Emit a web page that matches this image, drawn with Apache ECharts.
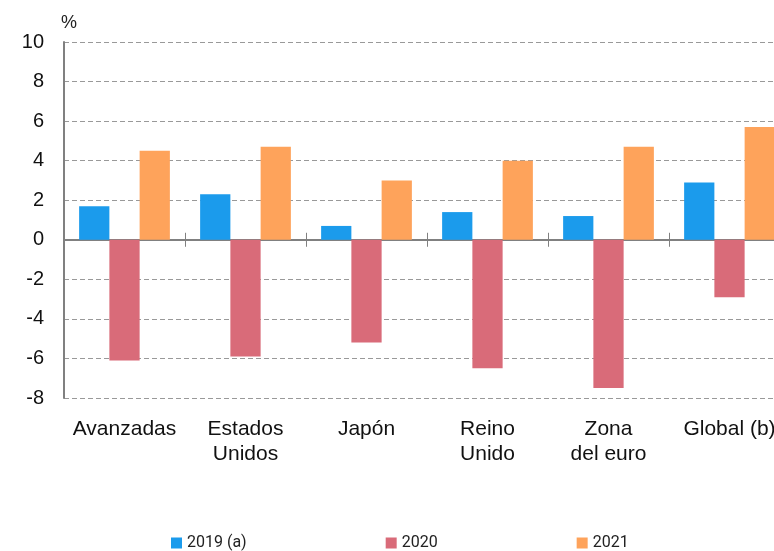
<!DOCTYPE html>
<html>
<head>
<meta charset="utf-8">
<script src="https://cdn.jsdelivr.net/npm/echarts@6/dist/echarts.min.js"></script>
<style>
  html, body { margin: 0; padding: 0; background: #fff; overflow: hidden; }
  /* el gráfico original está recortado a la derecha */
  #chart { width: 790px; height: 551px; }
</style>
</head>
<body>
<div id="chart"></div>
<script>
// categorías y valores (%)
const categories = ['Avanzadas', 'Estados\nUnidos', 'Japón', 'Reino\nUnido', 'Zona\ndel euro', 'Global (b)']
const serie2019 = [1.7, 2.3, 0.7, 1.4, 1.2, 2.9]
const serie2020 = [-6.1, -5.9, -5.2, -6.5, -7.5, -2.9]
const serie2021 = [4.5, 4.7, 3.0, 4.0, 4.7, 5.7]
const seriesNames = ['2019 (a)', '2020', '2021']
const yTicks = {min: -8, max: 10, interval: 2}

const colors = ['#1b9bec', '#d96b79', '#fea35b']
const font = 'Liberation Sans, Arial, sans-serif'

const chart = echarts.init(document.getElementById('chart'))

const barSeries = (name, data, idx) => ({
  name: name,
  type: 'bar',
  xAxisIndex: 0,
  yAxisIndex: 0,
  data: data,
  barGap: '0%',
  barCategoryGap: '25%',
  itemStyle: {color: colors[idx]},
  emphasis: {disabled: true}
})

const option = {
  animation: false,
  title: {
    text: '%',
    left: 61,
    top: 14,
    padding: 0,
    textStyle: {fontFamily: font, fontSize: 18, fontWeight: 'normal', color: '#222'}
  },
  grid: {left: 64, top: 42, right: 0, bottom: 153, containLabel: false},
  legend: {
    left: 171,
    top: 535,
    padding: 0,
    itemWidth: 11,
    itemHeight: 11,
    itemGap: 139,
    icon: 'rect',
    textStyle: {fontFamily: 'Roboto, sans-serif', fontSize: 16, color: '#222'},
    data: seriesNames
  },
  xAxis: [
    {
      // eje en cero con marcas hacia abajo
      type: 'category',
      data: categories,
      position: 'bottom',
      axisLine: {onZero: true, onZeroAxisIndex: 0, lineStyle: {color: '#808080', width: 2}},
      axisTick: {show: true, length: 7, lineStyle: {color: '#808080', width: 1}},
      axisLabel: {show: false},
      splitLine: {show: false}
    },
    {
      // marcas hacia arriba
      type: 'category',
      data: categories,
      position: 'top',
      axisLine: {show: false, onZero: true, onZeroAxisIndex: 1},
      axisTick: {show: true, length: 7, lineStyle: {color: '#808080', width: 1}},
      axisLabel: {show: false}
    },
    {
      // etiquetas abajo
      type: 'category',
      data: categories,
      position: 'bottom',
      axisLine: {show: false, onZero: false},
      axisTick: {show: false},
      axisLabel: {
        margin: 19,
        interval: 0,
        fontFamily: font,
        fontSize: 21,
        lineHeight: 25,
        color: '#111'
      }
    }
  ],
  yAxis: [
    {
      type: 'value',
      min: yTicks.min,
      max: yTicks.max,
      interval: yTicks.interval,
      axisLine: {show: true, lineStyle: {color: '#808080', width: 2}},
      axisTick: {show: false},
      axisLabel: {margin: 20, fontFamily: font, fontSize: 20, color: '#111'},
      splitLine: {show: true, lineStyle: {color: '#999', width: 1, type: [5, 3]}}
    },
    {
      // eje auxiliar para las marcas superiores
      type: 'value',
      min: yTicks.min,
      max: yTicks.max,
      interval: yTicks.interval,
      show: false
    }
  ],
  series: [
    barSeries(seriesNames[0], serie2019, 0),
    barSeries(seriesNames[1], serie2020, 1),
    barSeries(seriesNames[2], serie2021, 2)
  ]
}

chart.setOption(option)
</script>
</body>
</html>
